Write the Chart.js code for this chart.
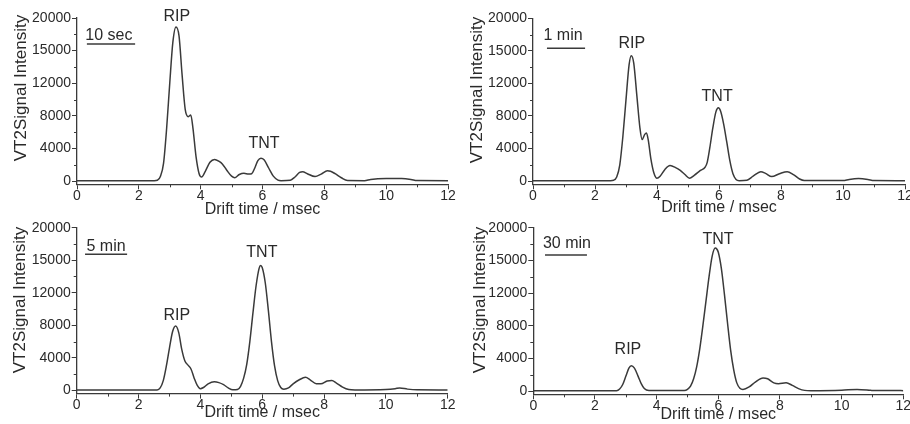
<!DOCTYPE html>
<html><head><meta charset="utf-8">
<script src="https://cdn.jsdelivr.net/npm/chart.js@4"></script>
<style>
html,body{margin:0;padding:0;background:#fff;overflow:hidden;width:910px;height:424px;position:relative;}
canvas{position:absolute;}
</style></head><body>
<canvas id="c1" width="460" height="226" style="left:0px;top:0px"></canvas>
<canvas id="c2" width="470" height="226" style="left:455px;top:0px"></canvas>
<canvas id="c3" width="460" height="226" style="left:0px;top:210px"></canvas>
<canvas id="c4" width="470" height="226" style="left:455px;top:210px"></canvas>
<script>
// ---- data (drift time in msec, signal intensity) ----
const t10sec = [0,2.5,2.6,2.7,2.8,2.9,3.0,3.1,3.2,3.3,3.4,3.5,3.6,3.68,3.75,3.85,3.95,4.03,4.15,4.3,4.45,4.6,4.7,4.85,5.0,5.1,5.25,5.4,5.55,5.65,5.75,5.85,5.95,6.05,6.2,6.35,6.5,6.6,6.9,7.05,7.2,7.3,7.45,7.7,7.9,8.1,8.2,8.35,8.55,8.75,9.3,9.5,10.0,10.5,10.8,11.0,12.0];
const v10sec = [50,50,100,600,2200,6500,12000,17000,18900,17800,13000,8800,7900,8100,6500,3000,900,500,1200,2300,2650,2400,2100,1300,600,400,800,950,850,900,1600,2500,2800,2600,1600,600,120,50,100,500,1050,1150,900,550,850,1250,1200,900,400,60,50,200,300,300,200,60,50];

const t1min = [0,2.5,2.6,2.7,2.8,2.9,3.0,3.1,3.17,3.25,3.35,3.45,3.52,3.6,3.66,3.72,3.8,3.9,4.0,4.1,4.25,4.42,4.6,4.75,4.9,5.05,5.2,5.4,5.55,5.62,5.7,5.8,5.9,5.98,6.05,6.15,6.25,6.35,6.45,6.55,6.65,6.9,7.1,7.35,7.5,7.7,7.95,8.2,8.4,8.6,8.75,10.0,10.2,10.5,10.8,11.0,12.0];
const v1min = [50,50,100,500,2000,5500,10000,14300,15400,14500,10500,6500,5100,5700,5900,5000,2800,1000,350,600,1400,1900,1650,1300,800,350,700,1300,1700,2300,4000,6500,8500,9000,8600,7000,4800,2500,900,200,50,100,600,1150,950,550,900,1150,800,250,60,60,200,300,200,60,50];

const t5min = [0,2.6,2.7,2.8,2.9,3.0,3.1,3.2,3.3,3.4,3.5,3.6,3.7,3.8,3.9,4.0,4.1,4.25,4.45,4.6,4.75,4.9,5.05,5.2,5.3,5.4,5.5,5.6,5.7,5.8,5.9,5.95,6.0,6.1,6.2,6.3,6.4,6.5,6.6,6.7,6.85,7.0,7.2,7.4,7.55,7.75,7.9,8.1,8.25,8.4,8.6,8.8,9.0,10.0,10.3,10.45,10.7,11.0,12.0];
const v5min = [50,50,300,1200,3000,5200,7200,7900,7100,5000,3600,3100,2600,1500,600,200,350,800,1050,950,700,300,60,100,500,1500,3200,6000,9500,12800,15000,15350,15100,13200,9800,6000,3000,1200,350,150,300,800,1300,1600,1300,800,800,1150,1200,900,400,100,50,100,200,300,150,60,50];

const t30min = [0,2.7,2.8,2.9,3.0,3.1,3.18,3.28,3.4,3.5,3.6,3.75,4.9,5.0,5.1,5.2,5.3,5.4,5.5,5.6,5.7,5.8,5.9,5.95,6.0,6.1,6.2,6.3,6.4,6.5,6.6,6.7,6.8,7.0,7.2,7.45,7.6,7.8,7.95,8.2,8.4,8.6,8.8,9.0,10.0,10.5,10.9,11.0,12.0];
const v30min = [50,50,250,800,1800,2800,3100,2800,1800,900,300,60,60,200,600,1500,3000,5200,8000,11000,14000,16500,17500,17400,17000,15000,11800,8300,5000,2600,1000,350,200,500,1100,1600,1500,1000,900,1000,700,300,80,50,100,200,100,60,50];

// ---- axis ticks ----
const xTickValues = [0,2,4,6,8,10,12];
const xMinorTicks = [1,3,5,7,9,11];
const yTickValues = [0,4000,8000,12000,16000,20000];
const yTickLabels = ['0','4000','8000','12000','15000','20000'];
const yMinorTicks = [2000,6000,10000,14000,18000];

// ---- text ----
const panelLabels = ['10 sec','1 min','5 min','30 min'];
const xTitle = 'Drift time / msec';
const yTitle = 'VT2Signal Intensity';

const FONT = "'Liberation Sans', Arial, Helvetica, sans-serif";
const INK = '#2a2a2a';
const LINE = '#3a3a3a';

const panels = [
  {id:'c1', t:t10sec, v:v10sec, label:panelLabels[0], w:460, h:226, area:{l:77,t:18,r:448,b:184.3}, xtPad:6.4, yT:[21,88],
   rip:[3.23,20120], tnt:[6.05,4540], tag:[1.03,17900], bar:[0.32,1.88,16800]},
  {id:'c2', t:t1min, v:v1min, label:panelLabels[1], w:470, h:226, area:{l:78,t:18.3,r:450,b:184.3}, xtPad:8.4, yT:[22,90],
   rip:[3.19,16930], tnt:[5.94,10430], tag:[0.97,17900], bar:[0.45,1.68,16320]},
  {id:'c3', t:t5min, v:v5min, label:panelLabels[2], w:460, h:226, area:{l:76.7,t:17.7,r:447.7,b:183.6}, xtPad:13.4, yT:[20,90],
   rip:[3.24,9240], tnt:[5.99,16970], tag:[0.95,17700], bar:[0.27,1.63,16720]},
  {id:'c4', t:t30min, v:v30min, label:panelLabels[3], w:470, h:226, area:{l:78.3,t:17.7,r:448.3,b:184.3}, xtPad:11.9, yT:[25,90],
   rip:[3.07,5030], tnt:[5.99,18500], tag:[1.09,18000], bar:[0.38,1.74,16660]}
];

const decor = {
  id:'decor',
  afterDraw(chart, args, o) {
    const {ctx, scales:{x, y}} = chart;
    const p = o.panel;
    ctx.save();
    ctx.strokeStyle = LINE; ctx.lineWidth = 1;
    ctx.beginPath();
    xMinorTicks.forEach(v => { const px = Math.round(x.getPixelForValue(v)) + 0.5; ctx.moveTo(px, x.top); ctx.lineTo(px, x.top + 3); });
    yMinorTicks.forEach(v => { const py = Math.round(y.getPixelForValue(v)) + 0.5; ctx.moveTo(y.right, py); ctx.lineTo(y.right - 3, py); });
    ctx.stroke();
    ctx.fillStyle = INK;
    ctx.textAlign = 'center'; ctx.textBaseline = 'middle';
    ctx.font = '16px ' + FONT;
    ctx.fillText('RIP', x.getPixelForValue(p.rip[0]), y.getPixelForValue(p.rip[1]));
    ctx.fillText('TNT', x.getPixelForValue(p.tnt[0]), y.getPixelForValue(p.tnt[1]));
    ctx.fillText(p.label, x.getPixelForValue(p.tag[0]), y.getPixelForValue(p.tag[1]));
    // y axis title
    ctx.save();
    ctx.translate(p.yT[0], p.yT[1]);
    ctx.rotate(-Math.PI / 2);
    ctx.font = '17px ' + FONT;
    ctx.fillText(yTitle, 0, 0);
    ctx.restore();
    ctx.lineWidth = 1.5;
    ctx.beginPath();
    const by = y.getPixelForValue(p.bar[2]);
    ctx.moveTo(x.getPixelForValue(p.bar[0]), by);
    ctx.lineTo(x.getPixelForValue(p.bar[1]), by);
    ctx.stroke();
    ctx.restore();
  }
};

panels.forEach(p => {
  const pts = p.t.map((tv, i) => ({x: tv, y: p.v[i]}));
  new Chart(document.getElementById(p.id), {
    type: 'line',
    data: { datasets: [{ data: pts, borderColor: LINE, borderWidth: 1.5, pointRadius: 0, cubicInterpolationMode: 'monotone', fill: false }] },
    options: {
      responsive: false, animation: false, devicePixelRatio: 1,
      layout: { padding: { left: 0, top: p.area.t, right: p.w - p.area.r, bottom: 0 } },
      plugins: { legend: {display:false}, tooltip: {enabled:false}, decor: {panel: p} },
      scales: {
        x: {
          type: 'linear', min: 0, max: 12,
          afterBuildTicks: s => { s.ticks = xTickValues.map(v => ({value: v})); },
          afterFit: s => { s.height = p.h - p.area.b; },
          grid: { drawOnChartArea: false, drawTicks: true, tickLength: 5, color: LINE, tickColor: LINE },
          border: { display: true, color: LINE, width: 1.3 },
          ticks: { color: INK, font: {family: FONT, size: 14, lineHeight: 1}, padding: 0, maxRotation: 0, autoSkip: false },
          title: { display: true, text: xTitle, color: INK, font: {family: FONT, size: 16}, padding: {top: 0, bottom: p.xtPad} }
        },
        y: {
          type: 'linear', min: -400, max: 20000,
          afterBuildTicks: s => { s.ticks = yTickValues.map(v => ({value: v})); },
          afterFit: s => { s.width = p.area.l; },
          grid: { drawOnChartArea: false, drawTicks: true, tickLength: 5, color: LINE, tickColor: LINE },
          border: { display: true, color: LINE, width: 1.3 },
          ticks: { color: INK, font: {family: FONT, size: 14}, padding: 1, autoSkip: false,
                   callback: v => { const i = yTickValues.indexOf(v); return i >= 0 ? yTickLabels[i] : ''; } },
          title: { display: false }
        }
      }
    },
    plugins: [decor]
  });
});
</script>
</body></html>
